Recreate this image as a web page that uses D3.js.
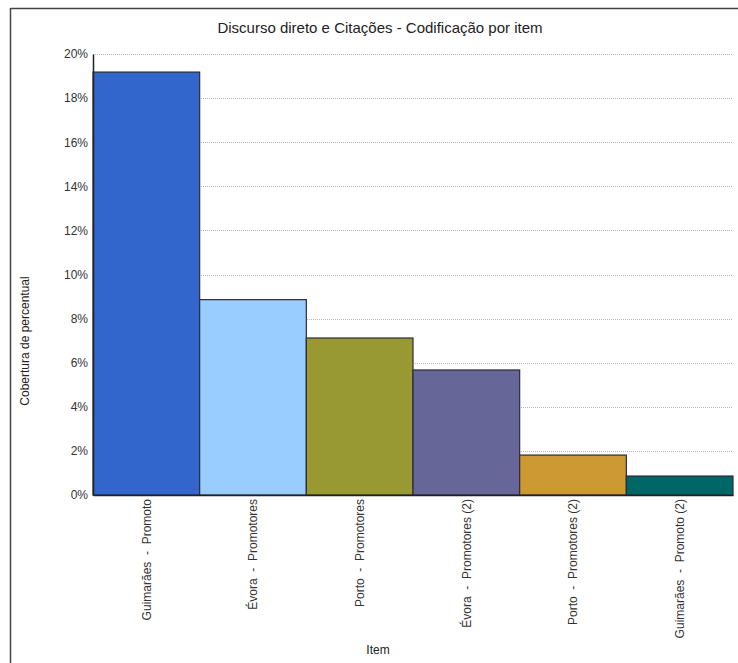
<!DOCTYPE html>
<html><head><meta charset="utf-8">
<script src="https://cdn.jsdelivr.net/npm/d3@7"></script>
<style>body{margin:0;background:#fff}text{font-family:"Liberation Sans",Arial,sans-serif}</style>
</head><body>
<svg id="c" width="738" height="663"></svg>
<script>
const categories = ["Guimarães  -  Promoto","Évora  -  Promotores","Porto  -  Promotores","Évora  -  Promotores (2)","Porto  -  Promotores (2)","Guimarães  -  Promoto (2)"];
const values = [19.18, 8.86, 7.12, 5.67, 1.81, 0.86];
const colors = ["#3366CC","#99CCFF","#999933","#666699","#CC9933","#006666"];
const yTicks = [0,2,4,6,8,10,12,14,16,18,20];

const svg = d3.select("#c");
const m = {left:93, right:733, top:54, bottom:495};
// frame
svg.append("line").attr("x1",10.5).attr("x2",738).attr("y1",8.5).attr("y2",8.5).attr("stroke","#444").attr("stroke-width",1.5);
svg.append("line").attr("x1",10.5).attr("x2",10.5).attr("y1",8).attr("y2",663).attr("stroke","#444").attr("stroke-width",1.5);

const x = d3.scaleBand().domain(categories).range([m.left,m.right]).padding(0);
const y = d3.scaleLinear().domain([0,20]).range([m.bottom,m.top]);

// grid
svg.append("g").selectAll("line").data(yTicks.filter(d=>d>0)).join("line")
  .attr("x1",m.left).attr("x2",m.right).attr("y1",d=>Math.round(y(d))+0.5).attr("y2",d=>Math.round(y(d))+0.5)
  .attr("stroke","#b8b8b8").attr("stroke-dasharray","1,1");

// bars
svg.append("g").selectAll("rect").data(values).join("rect")
  .attr("x",(d,i)=>x(categories[i])).attr("width",x.bandwidth())
  .attr("y",d=>y(d)).attr("height",d=>m.bottom-y(d))
  .attr("fill",(d,i)=>colors[i]).attr("stroke","#2a2a3a").attr("stroke-width",1.2);

// axes
const ya = svg.append("g").attr("transform",`translate(${m.left},0)`)
  .call(d3.axisLeft(y).tickValues(yTicks).tickSize(0).tickPadding(5).tickFormat(d=>d+"%"));
ya.select(".domain").attr("stroke","#222").attr("stroke-width",1.5);
ya.selectAll("text").attr("font-size",12).attr("fill","#333").style("font-family","'Liberation Sans',Arial,sans-serif");

const xa = svg.append("g").attr("transform",`translate(0,${m.bottom})`)
  .call(d3.axisBottom(x).tickSize(0).tickPadding(0));
xa.select(".domain").attr("stroke","#222").attr("stroke-width",1.5);
xa.selectAll("text").attr("font-size",12).attr("fill","#333")
  .style("font-family","'Liberation Sans',Arial,sans-serif").style("white-space","pre")
  .attr("text-anchor","end").attr("dy","0.35em")
  .attr("transform","translate(0,4) rotate(-90)").attr("x",0).attr("y",0);

// title
svg.append("text").attr("x",380).attr("y",33).attr("text-anchor","middle").attr("font-size",15).attr("fill","#222")
  .text("Discurso direto e Citações - Codificação por item");
svg.append("text").attr("transform","translate(29,341) rotate(-90)").attr("text-anchor","middle").attr("font-size",12).attr("fill","#222")
  .text("Cobertura de percentual");
svg.append("text").attr("x",378).attr("y",654).attr("text-anchor","middle").attr("font-size",12).attr("fill","#222").text("Item");
</script>
</body></html>
